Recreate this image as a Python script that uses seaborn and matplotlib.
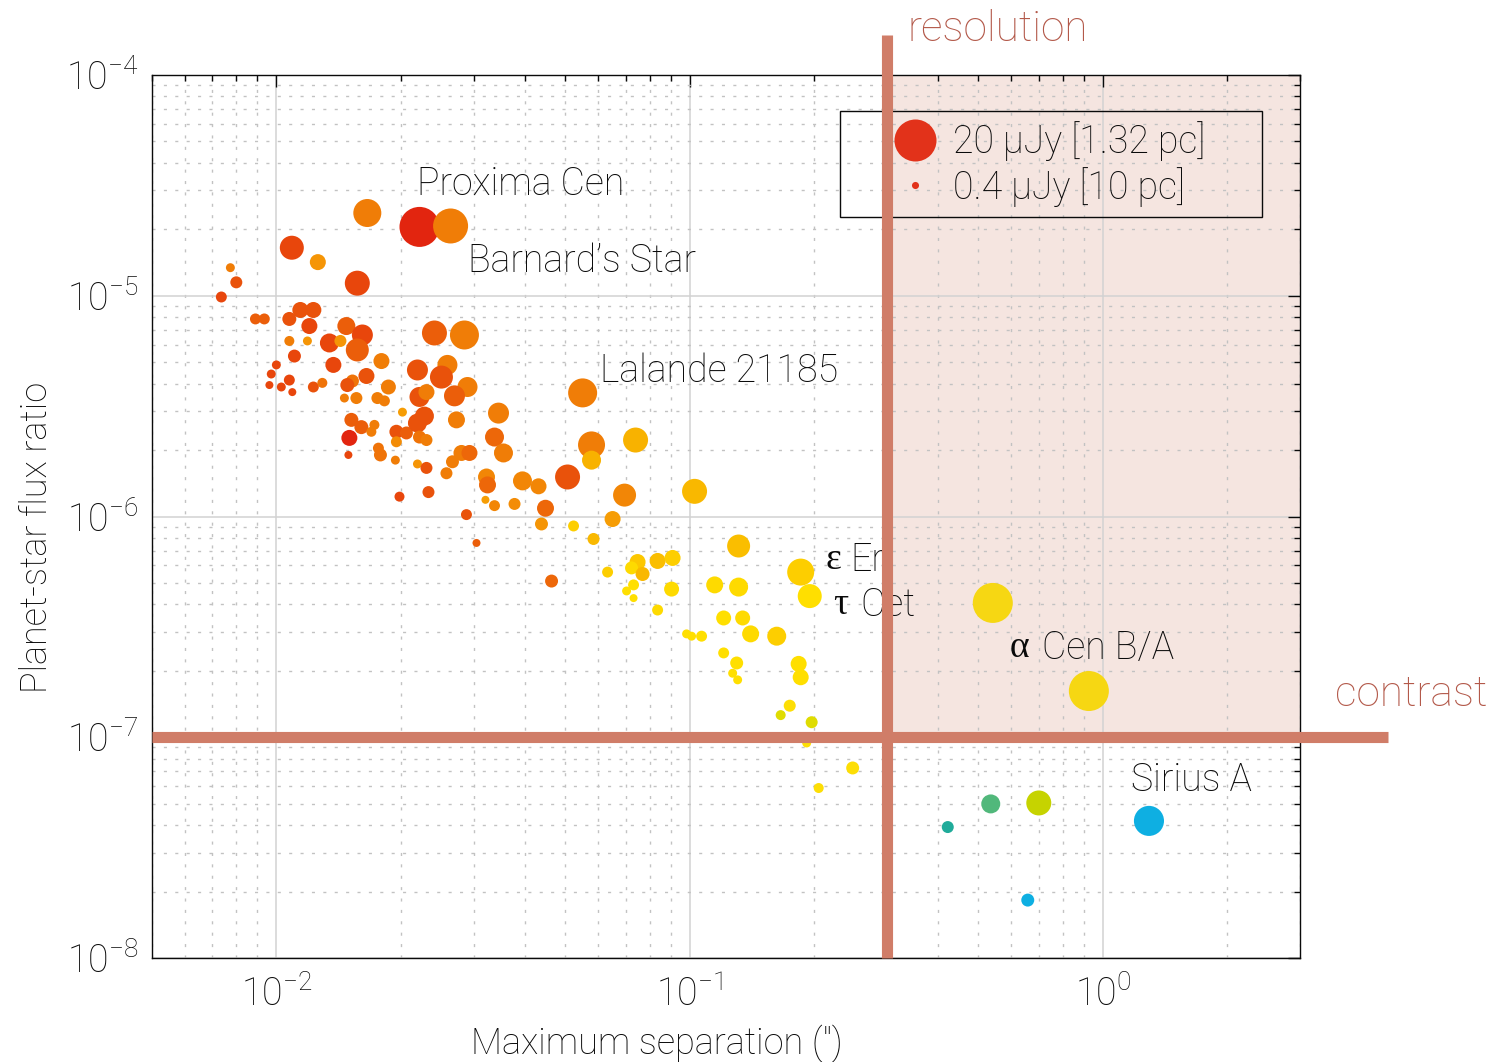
import numpy as np
import pandas as pd
import matplotlib
matplotlib.use("Agg")
import matplotlib.pyplot as plt
from matplotlib.colors import LinearSegmentedColormap
from matplotlib.lines import Line2D
from matplotlib.ticker import LogLocator, NullFormatter
import seaborn as sns

# ---------------------------------------------------------------------------
# Habitable-zone planets around nearby stars
# ---------------------------------------------------------------------------
sep_arcsec = [
    0.0166, 0.0222, 0.0264, 0.0109, 0.0126, 0.0157, 0.00774, 0.0080, 0.00736, 0.0089,
    0.00935, 0.01075, 0.01143, 0.01229, 0.01202, 0.01075, 0.01189, 0.01106, 0.0100, 0.00972,
    0.01075, 0.00962, 0.01028, 0.01093, 0.01229, 0.01292, 0.01477, 0.01344, 0.01429, 0.01615,
    0.0157, 0.01374, 0.01796, 0.01652, 0.01528, 0.01485, 0.01867, 0.01461, 0.01562, 0.01756,
    0.01826, 0.02019, 0.01519, 0.01606, 0.01727, 0.01952, 0.02064, 0.01502, 0.01698, 0.01952,
    0.01494, 0.01766, 0.01786, 0.01941, 0.02195, 0.01986, 0.02334, 0.02413, 0.02852, 0.02195,
    0.02594, 0.02509, 0.02901, 0.02698, 0.0222, 0.02308, 0.02282, 0.02195, 0.0222, 0.02308,
    0.02728, 0.03448, 0.03372, 0.03545, 0.0551, 0.0579, 0.0579, 0.02805, 0.02933, 0.02668,
    0.02308, 0.0258, 0.03225, 0.03243, 0.03941, 0.04309, 0.03206, 0.03372, 0.0377, 0.02884,
    0.0305, 0.074, 0.05066, 0.0448, 0.04381, 0.0696, 0.06511, 0.1028, 0.05238, 0.05855,
    0.04634, 0.06332, 0.07483, 0.07237, 0.07694, 0.08367, 0.09095, 0.07318, 0.07039, 0.07318,
    0.09045, 0.08367, 0.1314, 0.115, 0.1314, 0.1209, 0.1344, 0.09833, 0.1011, 0.1069,
    0.1405, 0.1625, 0.1209, 0.13, 0.1271, 0.1307, 0.1857, 0.1953, 0.1836, 0.1857,
    0.1747, 0.1661, 0.1974, 0.192, 0.2481, 0.2053, 0.5416, 0.925, 0.4214, 0.5355,
    0.6998, 1.293, 0.6581,
]

flux_ratio = [
    2.37e-5, 2.05e-5, 2.07e-5, 1.65e-5, 1.42e-5, 1.14e-5, 1.34e-5, 1.15e-5, 9.87e-6, 7.85e-6,
    7.85e-6, 7.85e-6, 8.62e-6, 8.62e-6, 7.29e-6, 6.24e-6, 6.24e-6, 5.33e-6, 4.86e-6, 4.42e-6,
    4.15e-6, 3.94e-6, 3.86e-6, 3.66e-6, 3.86e-6, 4.03e-6, 7.29e-6, 6.11e-6, 6.24e-6, 6.64e-6,
    5.68e-6, 4.86e-6, 5.06e-6, 4.33e-6, 4.11e-6, 3.94e-6, 3.86e-6, 3.44e-6, 3.44e-6, 3.44e-6,
    3.34e-6, 2.97e-6, 2.74e-6, 2.54e-6, 2.60e-6, 2.42e-6, 2.39e-6, 2.27e-6, 2.42e-6, 2.18e-6,
    1.90e-6, 2.04e-6, 1.90e-6, 1.80e-6, 1.73e-6, 1.23e-6, 1.29e-6, 6.78e-6, 6.64e-6, 4.61e-6,
    4.86e-6, 4.28e-6, 3.86e-6, 3.52e-6, 3.48e-6, 3.66e-6, 2.85e-6, 2.65e-6, 2.29e-6, 2.22e-6,
    2.74e-6, 2.94e-6, 2.29e-6, 1.94e-6, 3.63e-6, 2.11e-6, 1.80e-6, 1.94e-6, 1.94e-6, 1.77e-6,
    1.66e-6, 1.57e-6, 1.51e-6, 1.39e-6, 1.45e-6, 1.37e-6, 1.19e-6, 1.12e-6, 1.14e-6, 1.02e-6,
    7.59e-7, 2.22e-6, 1.51e-6, 1.09e-6, 9.25e-7, 1.25e-6, 9.74e-7, 1.30e-6, 9.06e-7, 7.91e-7,
    5.10e-7, 5.60e-7, 6.22e-7, 5.85e-7, 5.49e-7, 6.29e-7, 6.49e-7, 4.90e-7, 4.60e-7, 4.27e-7,
    4.69e-7, 3.77e-7, 7.35e-7, 4.90e-7, 4.79e-7, 3.47e-7, 3.47e-7, 2.94e-7, 2.87e-7, 2.87e-7,
    2.94e-7, 2.87e-7, 2.41e-7, 2.17e-7, 1.95e-7, 1.82e-7, 5.60e-7, 4.36e-7, 2.15e-7, 1.87e-7,
    1.39e-7, 1.26e-7, 1.17e-7, 9.42e-8, 7.26e-8, 5.89e-8, 4.06e-7, 1.62e-7, 3.92e-8, 4.99e-8,
    5.04e-8, 4.18e-8, 1.83e-8,
]

planet_flux_uJy = [
    9.8, 20.0, 15.3, 7.2, 3.2, 7.8, 1.0, 1.8, 1.5, 1.5,
    1.5, 2.45, 3.2, 3.2, 3.2, 1.25, 1.0, 2.1, 1.0, 1.0,
    1.5, 0.8, 1.0, 0.8, 1.5, 1.25, 4.05, 4.5, 1.8, 5.5,
    6.6, 3.2, 3.2, 3.2, 2.1, 2.45, 2.8, 1.0, 1.8, 1.8,
    1.5, 1.0, 2.45, 2.45, 1.25, 2.45, 2.1, 3.2, 1.25, 1.5,
    0.8, 1.5, 2.1, 1.0, 1.0, 1.25, 1.8, 7.8, 10.5, 5.5,
    5.0, 6.6, 5.0, 5.5, 5.0, 3.2, 4.5, 4.5, 2.1, 1.8,
    3.6, 5.5, 4.5, 4.5, 10.5, 9.1, 4.5, 3.2, 3.2, 2.1,
    1.8, 1.8, 3.6, 3.6, 4.5, 3.2, 0.8, 1.5, 1.8, 1.5,
    0.8, 7.8, 7.8, 3.6, 2.1, 6.6, 3.2, 7.8, 1.5, 1.8,
    2.1, 1.5, 3.2, 2.1, 2.45, 3.2, 3.2, 1.5, 1.0, 0.8,
    2.8, 1.5, 6.6, 3.6, 4.5, 2.8, 2.8, 1.0, 1.0, 1.5,
    3.6, 4.5, 1.5, 2.1, 1.0, 1.0, 9.1, 7.2, 3.2, 3.2,
    1.8, 1.25, 1.8, 1.0, 2.1, 1.25, 20.0, 20.0, 1.8, 4.5,
    7.8, 11.3, 2.1,
]

star_teff_K = [
    3700, 3000, 3700, 3200, 4000, 3200, 3700, 3300, 3200, 3400,
    3400, 3300, 3300, 3300, 3200, 3700, 4000, 3200, 3200, 3200,
    3200, 3200, 3200, 3200, 3300, 3600, 3400, 3200, 4000, 3200,
    3400, 3200, 3700, 3300, 3600, 3300, 3700, 3700, 3700, 3700,
    3700, 4100, 3400, 3400, 3700, 3300, 3400, 3000, 3700, 3900,
    3200, 3600, 3600, 3700, 4000, 3200, 3300, 3400, 3700, 3300,
    3700, 3300, 3700, 3400, 3300, 3700, 3300, 3300, 3600, 3700,
    3700, 3700, 3500, 3700, 3700, 3700, 4400, 3700, 3500, 3700,
    3300, 3700, 3800, 3500, 3800, 3800, 4100, 3800, 3900, 3300,
    3400, 4400, 3300, 3500, 4000, 3800, 4100, 4500, 4900, 4500,
    3500, 4900, 4800, 5100, 4500, 4600, 4900, 5200, 5200, 5200,
    5100, 5100, 4600, 5100, 5100, 5200, 5100, 5200, 5200, 5200,
    5100, 4900, 5200, 5200, 5200, 5200, 4900, 5200, 5200, 5200,
    5300, 6000, 6000, 5300, 5300, 5300, 5600, 5600, 7800, 7200,
    6500, 9800, 9800,
]

# Named targets: left edge of each label in data coordinates
target_labels = ["Proxima Cen", "Barnard\u2019s Star", "Lalande 21185", "Sirius A"]
target_label_x = [0.02195, 0.02917, 0.06054, 1.169]
target_label_y = [3.21e-5, 1.44e-5, 4.56e-6, 6.40e-8]

# Labels that start with a Greek letter (drawn in a serif face)
greek_letters = ["\u03b5", "\u03c4", "\u03b1"]
greek_rest = ["Eri", "Cet", "Cen B/A"]
greek_label_x = [0.2135, 0.222, 0.5955]
greek_label_y = [6.35e-7, 3.97e-7, 2.54e-7]
greek_gap_pt = [18.0, 20.0, 23.0]

# Instrument limits
resolution_limit = 0.3      # arcsec
contrast_limit = 1e-7       # planet/star flux ratio

# Legend reference fluxes
legend_flux = [20.0, 0.4]
legend_text = ["20 \u03bcJy [1.32 pc]", "0.4 \u03bcJy [10 pc]"]

# ---------------------------------------------------------------------------
# Styling
# ---------------------------------------------------------------------------
sns.set_theme(style="white")
plt.rcParams["font.family"] = ["Roboto", "DejaVu Sans"]
plt.rcParams["font.weight"] = "light"
plt.rcParams["axes.labelweight"] = "light"
plt.rcParams["mathtext.default"] = "regular"

text_color = "#0a0a0a"
limit_color = "#d07d68"
limit_text_color = "#b3594a"
fs = 27
fs_limits = 30.5
fs_axlabel = 26

cmap_teff = [3000, 3200, 3400, 3600, 3800, 4000, 4400, 4800, 5200, 5600, 6000, 6500, 7200, 7800, 9800]
cmap_cols = ["#e2250f", "#e8480c", "#eb5e0a", "#ef7508", "#f28606", "#f59606", "#f8b300",
             "#fcc800", "#ffe000", "#f6d714", "#dedc00", "#c6d300", "#52b87a", "#20ab9a", "#0eafe2"]
t_lo, t_hi = cmap_teff[0], cmap_teff[-1]
star_cmap = LinearSegmentedColormap.from_list(
    "star_teff", [((t - t_lo) / (t_hi - t_lo), c) for t, c in zip(cmap_teff, cmap_cols)])

x_min, x_max = 0.005, 3.0
y_min, y_max = 1e-8, 1e-4

fig = plt.figure(figsize=(15.12, 10.62), dpi=100)
ax = fig.add_axes([0.1005, 0.0979, 0.7593, 0.8315])
ax.set_xscale("log")
ax.set_yscale("log")
ax.set_xlim(x_min, x_max)
ax.set_ylim(y_min, y_max)

# Accessible region: separations above the resolution limit, contrasts above the floor
ax.fill_between([resolution_limit, x_max], contrast_limit, y_max,
                color=limit_color, alpha=0.2, lw=0, zorder=0.2)

# Grids
ax.set_axisbelow(True)
for axis in (ax.xaxis, ax.yaxis):
    axis.set_major_locator(LogLocator(base=10, numticks=12))
    axis.set_minor_locator(LogLocator(base=10, subs=np.arange(2, 10), numticks=30))
    axis.set_minor_formatter(NullFormatter())
ax.grid(True, which="major", color="#d2d2d2", lw=1.1, ls="-")
ax.grid(True, which="minor", color="#c2c2c2", lw=1.0, ls=(0, (2.2, 6.0)))

# Planets
df = pd.DataFrame({"sep": sep_arcsec, "ratio": flux_ratio,
                   "flux": planet_flux_uJy, "teff": star_teff_K})
area_per_uJy = 41.5  # points^2 per microjansky
sns.scatterplot(data=df, x="sep", y="ratio", hue="teff", size="flux",
                palette=star_cmap, hue_norm=(t_lo, t_hi),
                sizes=(0, 20 * area_per_uJy), size_norm=(0, 20),
                linewidth=0, edgecolor="none", alpha=1.0, legend=False,
                ax=ax, zorder=2)

# Limit lines, extending past the frame
line_top = 1.52e-4
line_right = 4.9
ax.plot([resolution_limit, resolution_limit], [y_min, line_top], color=limit_color,
        lw=8, solid_capstyle="butt", clip_on=False, zorder=10)
ax.plot([x_min, line_right], [contrast_limit, contrast_limit], color=limit_color,
        lw=8, solid_capstyle="butt", clip_on=False, zorder=10)
ax.text(0.337, 1.6e-4, "resolution", color=limit_text_color, fontsize=fs_limits,
        ha="left", va="center", clip_on=False)
ax.text(3.65, 1.57e-7, "contrast", color=limit_text_color, fontsize=fs_limits,
        ha="left", va="center", clip_on=False)

# Target names
for txt, lx, ly in zip(target_labels, target_label_x, target_label_y):
    ax.text(lx, ly, txt, fontsize=fs, color=text_color, ha="left", va="center", zorder=3)
for g, rest, lx, ly, gap in zip(greek_letters, greek_rest, greek_label_x, greek_label_y, greek_gap_pt):
    ax.annotate(g, xy=(lx, ly), fontsize=fs, color=text_color, ha="left", va="center",
                family="Liberation Serif", fontweight="normal", zorder=3)
    ax.annotate(rest, xy=(lx, ly), xytext=(gap, 0), textcoords="offset points",
                fontsize=fs, color=text_color, ha="left", va="center", zorder=3)

# Size legend
legend_red = "#e2321a"
handles = [Line2D([], [], ls="none", marker="o", mfc=legend_red, mec="none",
                  ms=np.sqrt(f * area_per_uJy) * (1.05 if f > 1 else 1.25))
           for f in legend_flux]
leg = ax.legend(handles, legend_text, loc="upper left",
                bbox_to_anchor=(0.5993, 0.8437, 0.3676, 0.1155), mode="expand",
                fontsize=fs, frameon=True, fancybox=False, framealpha=1.0,
                borderpad=0.28, handlelength=3.44, handletextpad=-0.71,
                labelspacing=0.14, borderaxespad=0.0, numpoints=1)
frame = leg.get_frame()
frame.set_facecolor("none")
frame.set_edgecolor(text_color)
frame.set_linewidth(1.0)
leg.set_zorder(4)
for t in leg.get_texts():
    t.set_color(text_color)

# Frame and ticks
for sp in ax.spines.values():
    sp.set_visible(True)
    sp.set_color(text_color)
    sp.set_linewidth(1.0)
ax.tick_params(which="both", direction="in", top=True, right=True,
               color=text_color, width=1.0)
ax.tick_params(which="major", length=8.5, labelsize=fs, labelcolor=text_color)
ax.tick_params(which="minor", length=4.5)
ax.tick_params(axis="y", which="major", pad=10)
ax.tick_params(axis="x", which="major", pad=13)

ax.set_xlabel("Maximum separation (\u2033)", fontsize=fs_axlabel, color=text_color)
ax.set_ylabel("Planet-star flux ratio", fontsize=fs_axlabel, color=text_color)
ax.xaxis.label.set_verticalalignment("center")
ax.yaxis.label.set_verticalalignment("center")
ax.xaxis.set_label_coords(0.44, -0.096)
ax.yaxis.set_label_coords(-0.100, 0.476)

fig.savefig("out.png", dpi=100, facecolor="white")
